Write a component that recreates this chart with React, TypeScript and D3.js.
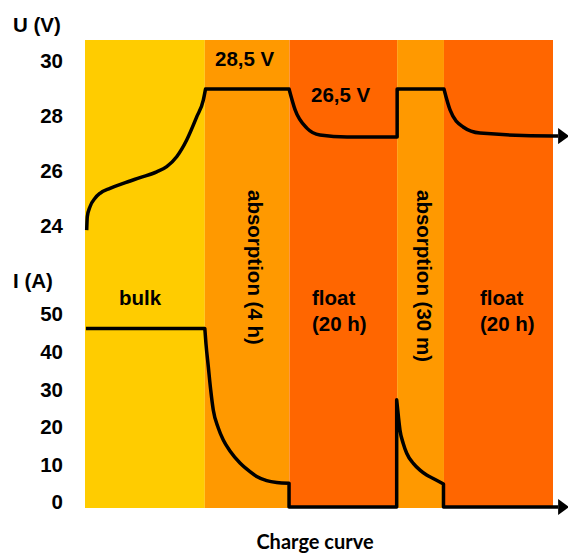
import React from 'react';
import * as d3 from 'd3';

// charge phases, nominal time units (0..100 across the coloured area)
const phaseBounds = [0, 25.6, 43.7, 66.7, 76.7, 100];
const phaseKinds = ['bulk', 'absorption', 'float', 'absorption', 'float'];

const voltageTicks = [24, 26, 28, 30];
const currentTicks = [0, 10, 20, 30, 40, 50];

// voltage curve [t, U]
const voltageSegments: [number, number][][] = [
  [
    [0.36, 23.85], [0.49, 24.34], [1.07, 24.7], [2.14, 25.01], [3.21, 25.19],
    [5.34, 25.37], [8.18, 25.55], [11.75, 25.76], [15.32, 25.97], [17.46, 26.16],
    [19.59, 26.52], [21.73, 27.13], [23.87, 27.97], [25.28, 28.58], [25.75, 28.98],
  ],
  [[25.75, 28.98], [43.6, 28.98]],
  [[43.6, 28.98], [44.9, 28.22], [47.4, 27.56], [50.2, 27.31], [56.0, 27.24], [66.7, 27.24]],
  [[66.7, 27.24], [66.7, 28.98], [76.7, 28.98]],
  [[76.7, 28.98], [78.0, 28.22], [80.8, 27.6], [84.4, 27.38], [100, 27.27], [101.1, 27.27]],
];

// current curve [t, I]
const currentSegments: [number, number][][] = [
  [[0.2, 47.5], [25.6, 47.5]],
  [
    [25.6, 47.5], [25.85, 43.4], [26.35, 37.3], [26.86, 31.1], [27.41, 25.8],
    [28.48, 21.0], [29.55, 17.8], [30.98, 14.9], [33.12, 11.7], [35.26, 9.4],
    [36.69, 8.1], [38.82, 7.0], [40.96, 6.5], [43.6, 6.3],
  ],
  [[43.6, 6.3], [43.6, 0], [66.6, 0], [66.6, 28.5]],
  [
    [66.6, 28.5], [66.97, 24.0], [67.3, 20.5], [68.0, 16.9], [68.74, 14.3],
    [70.15, 11.6], [71.58, 9.8], [73.0, 8.5], [74.4, 7.6], [76.6, 6.1],
  ],
  [[76.6, 6.1], [76.6, 0], [101.1, 0]],
];

const phaseColor: Record<string, string> = {
  bulk: '#FFCC00',
  absorption: '#FF9900',
  float: '#FF6600',
};

const W = 568;
const H = 556;
const TOP = 40;
const FONT = '"Liberation Sans", Arial, sans-serif';

const x = d3.scaleLinear().domain([0, 100]).range([85, 553]);
const yU = d3.scaleLinear().domain([24, 30]).range([226, 61]);
const yI = d3.scaleLinear().domain([0, 50]).range([507, 319]);

function buildPath(segments: [number, number][][], y: d3.ScaleLinear<number, number>) {
  const line = d3
    .line<[number, number]>()
    .x((d) => x(d[0]))
    .y((d) => y(d[1]));
  return segments
    .map((seg, i) => {
      const straight = seg.every((p, j) => j === 0 || p[0] === seg[j - 1][0] || p[1] === seg[j - 1][1]);
      line.curve(straight ? d3.curveLinear : d3.curveMonotoneX);
      const d = line(seg) || '';
      return i === 0 ? d : 'L' + d.slice(1);
    })
    .join('');
}

const App: React.FC = () => {
  const bottom = yI(0) + 1;
  const txt = { fontFamily: FONT, fontWeight: 700, fontSize: 20.5, fill: '#000' } as const;

  return (
    <svg
      width={W}
      height={H}
      viewBox={`0 0 ${W} ${H}`}
      style={{ position: 'absolute', left: 0, top: 0, background: '#fff' }}
    >
      <defs>
        <marker
          id="arrow"
          viewBox="0 0 11 16"
          refX={0}
          refY={8}
          markerWidth={11}
          markerHeight={16}
          markerUnits="userSpaceOnUse"
          orient="auto"
        >
          <path d="M0,0 L11,8 L0,16 Z" fill="#000" />
        </marker>
      </defs>

      {phaseKinds.map((k, i) => (
        <rect
          key={i}
          x={x(phaseBounds[i])}
          y={TOP}
          width={x(phaseBounds[i + 1]) - x(phaseBounds[i])}
          height={bottom - TOP}
          fill={phaseColor[k]}
        />
      ))}

      {/* axis titles and ticks */}
      <text x={13} y={32} {...txt}>U (V)</text>
      <text x={13} y={288} {...txt}>I (A)</text>
      {voltageTicks.map((v) => (
        <text key={'u' + v} x={63} y={yU(v)} dy="0.36em" textAnchor="end" {...txt}>
          {v}
        </text>
      ))}
      {currentTicks.map((v) => (
        <text key={'i' + v} x={63} y={yI(v) - 5} dy="0.36em" textAnchor="end" {...txt}>
          {v}
        </text>
      ))}

      {/* phase labels */}
      <text x={119} y={305} {...txt}>bulk</text>
      <text x={312} y={305} {...txt}>float</text>
      <text x={312} y={331} {...txt}>(20 h)</text>
      <text x={480} y={305} {...txt}>float</text>
      <text x={480} y={331} {...txt}>(20 h)</text>
      <text transform="translate(248,190) rotate(90)" {...txt}>absorption (4 h)</text>
      <text transform="translate(417,190) rotate(90)" {...txt}>absorption (30 m)</text>
      <text x={215} y={66} {...txt}>28,5 V</text>
      <text x={311} y={102} {...txt}>26,5 V</text>

      {/* curves */}
      <path
        d={buildPath(voltageSegments, yU)}
        fill="none"
        stroke="#000"
        strokeWidth={3.5}
        strokeLinejoin="round"
        markerEnd="url(#arrow)"
      />
      <path
        d={buildPath(currentSegments, yI)}
        fill="none"
        stroke="#000"
        strokeWidth={3.5}
        strokeLinejoin="round"
        markerEnd="url(#arrow)"
      />

      <text
        x={315}
        y={549}
        textAnchor="middle"
        fontFamily='Lato, "Open Sans", sans-serif'
        fontWeight={700}
        fontSize={20}
        fill="#000"
      >
        Charge curve
      </text>
    </svg>
  );
};

export default App;
